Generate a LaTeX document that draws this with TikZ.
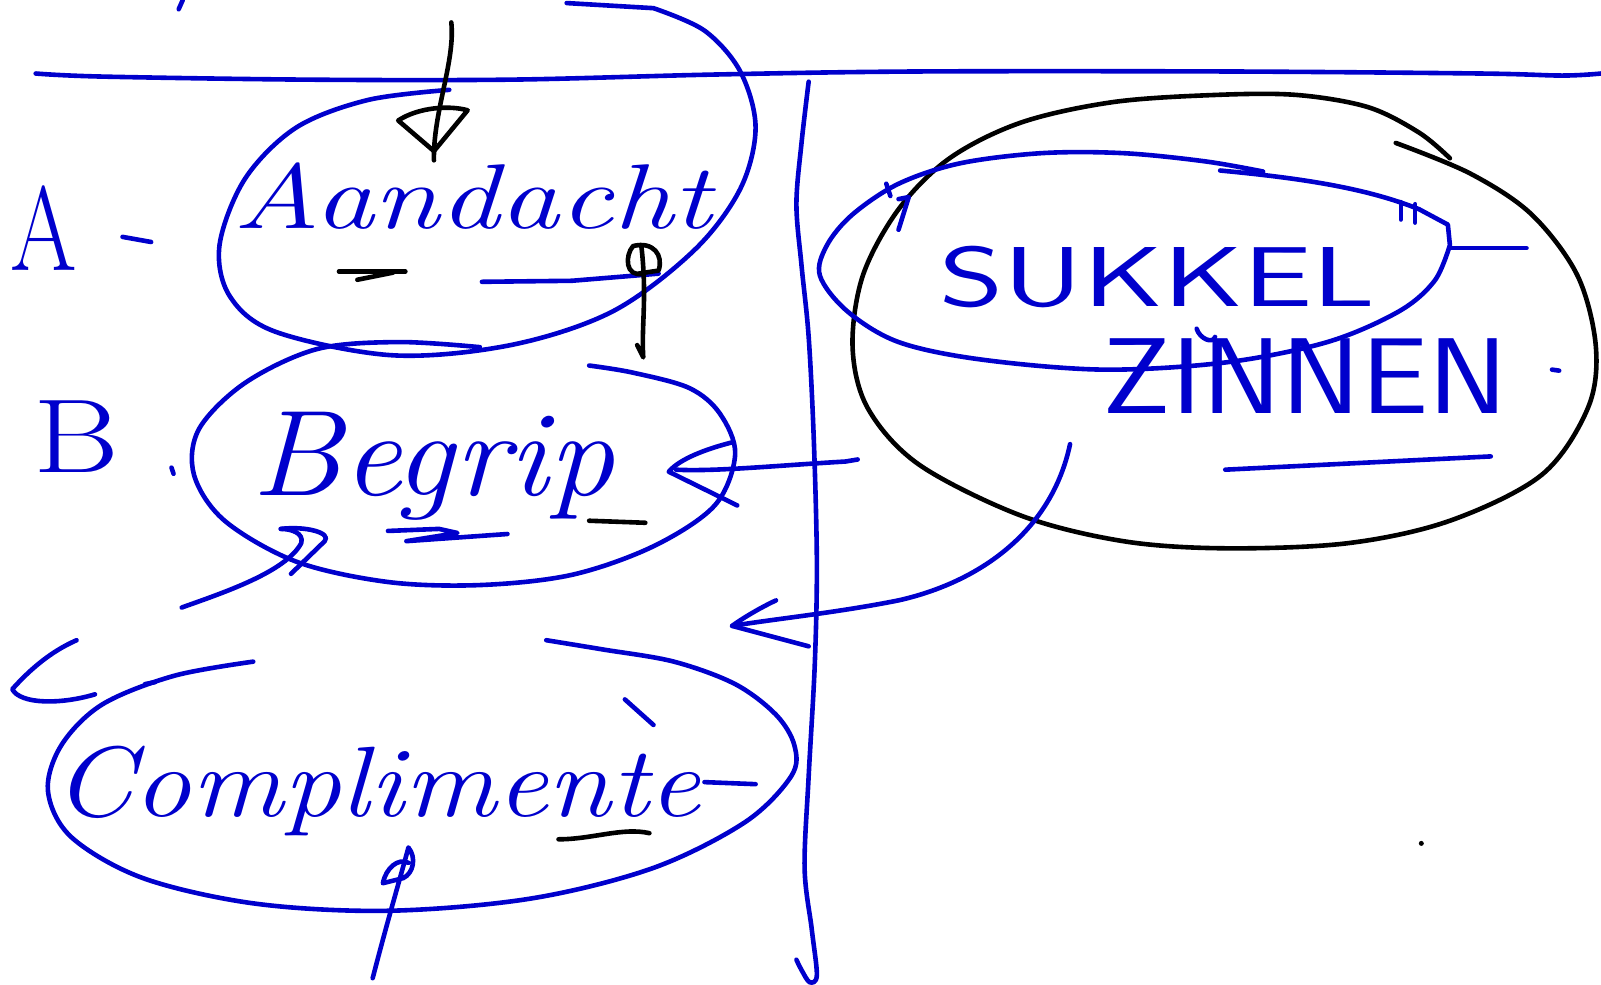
\documentclass[tikz,border=0pt]{standalone}
\usepackage{fontspec}
\definecolor{inkblue}{RGB}{0,0,204}
\begin{document}
\begin{tikzpicture}[x=1.021pt,y=-1.021pt,
  pen/.style={line width=4.6pt, line cap=round, line join=round},
  bluepen/.style={pen, draw=inkblue},
  blackpen/.style={pen, draw=black},
  hand/.style={text=inkblue, inner sep=0pt, anchor=base west},
  curve/.style={smooth, tension=0.55}]
\useasboundingbox (0,0) rectangle (1568,964);

% ---------- frame lines ----------
\draw[bluepen] plot[curve] coordinates {(35,72) (100,75) (300,78) (500,78) (700,73) (900,70) (1200,70) (1450,72) (1530,74) (1568,72)};
\draw[bluepen] plot[curve] coordinates {(792,80) (785,140) (780,200) (785,260) (792,330) (797,430) (800,550) (798,650) (792,760) (788,850) (795,910) (800,955) (793,962) (785,950) (780,940)};
\draw[bluepen] (175,9) -- (179,0);

% ---------- left labels ----------
\node[hand] (lA) at (10,265) {\scalebox{0.8}[1]{\fontsize{120}{120}\selectfont A}};
\draw[bluepen] (120,232) -- (148,237);
\node[hand] (lB) at (33,463) {\scalebox{1.25}[1]{\fontsize{105}{105}\selectfont B}};
\draw[bluepen] (168,458) -- (170,464);

% ---------- Aandacht ----------
\draw[bluepen] plot[curve] coordinates {(440,88) (360,98) (290,125) (240,175) (215,240) (225,290) (270,325) (385,348) (500,338) (600,305) (680,245) (725,185) (740,125) (725,70) (690,30) (640,8)} -- (555,3);
\node[hand] (aand) at (228,224) {\scalebox{1.3}[1]{\fontsize{92}{92}\selectfont\itshape Aandacht}};
\draw[blackpen] (332,266) -- (397,266);
\draw[blackpen] (350,274) -- (385,267);
\draw[bluepen] (472,276) -- (560,275) -- (645,268);

% black arrow into Aandacht
\coordinate (aTop) at (442,22);
\coordinate (aTip) at (425,157);
\draw[blackpen] (aTop) .. controls (446,60) and (424,110) .. (aTip);
\draw[blackpen] (425,148) -- (390,118) .. controls (410,105) and (440,103) .. (458,108) -- cycle;

% black mark between Aandacht and Begrip
\draw[blackpen] (628,240) .. controls (634,290) and (628,320) .. (630,350) -- (624,338);
\draw[blackpen] (630,268) .. controls (612,272) and (612,250) .. (620,241) .. controls (640,236) and (650,250) .. (645,265) -- (625,268);

% ---------- Begrip ----------
\draw[bluepen] plot[curve] coordinates {(470,340) (390,335) (310,342) (240,375) (195,420) (190,465) (220,510) (290,550) (380,570) (470,573) (560,563) (640,535) (700,495) (720,445) (705,405) (675,380) (620,365) (577,358)};
\node[hand] (begr) at (246,485) {\scalebox{1.08}[1]{\fontsize{122}{122}\selectfont\itshape Begrip}};
\draw[blackpen] (577,510) -- (632,512);
\draw[bluepen] (380,520) -- (430,518) -- (448,522) -- (398,530) -- (497,523);

% arrow into Begrip from the right
\coordinate (bTail) at (840,450);
\coordinate (bTip) at (662,460);
\draw[bluepen] (bTail) -- (828,452) .. controls (760,456) and (700,462) .. (bTip);
\draw[bluepen] (718,433) .. controls (690,440) and (665,450) .. (655,462) -- (722,495);

% curly stroke below Begrip
\draw[bluepen] (178,595) .. controls (220,580) and (280,560) .. (295,532) .. controls (298,522) and (285,518) .. (275,518);
\draw[bluepen] (275,518) .. controls (300,515) and (325,522) .. (318,530) -- (285,562);

% ---------- Compliment ----------
\draw[bluepen] (75,627) .. controls (50,638) and (30,655) .. (12,675) .. controls (20,690) and (60,690) .. (93,680);
\draw[bluepen] (142,670) -- (152,668);
\draw[bluepen] plot[curve] coordinates {(248,648) (170,662) (100,690) (60,730) (47,775) (70,820) (140,860) (250,885) (380,892) (520,880) (640,850) (730,805) (775,760) (778,730) (760,700) (720,670) (660,648) (590,636) (535,627)};
\node[hand] (comp) at (52,800) {\scalebox{1.15}[1]{\fontsize{100}{100}\selectfont\itshape Complimente}};
\draw[bluepen] (612,685) -- (640,710);
\draw[bluepen] (690,766) -- (740,768);
\draw[blackpen] (547,822) .. controls (580,822) and (610,810) .. (636,816);
\coordinate (cTail) at (365,958);
\draw[bluepen] (cTail) .. controls (380,900) and (392,860) .. (400,830) .. controls (408,840) and (405,855) .. (395,860) -- (375,865) .. controls (378,850) and (390,840) .. (400,845);

% ---------- SUKKEL / ZINNEN ----------
\draw[blackpen] plot[curve] coordinates {(1420,155) (1390,130) (1340,105) (1270,93) (1190,93) (1090,100) (1000,120) (930,155) (880,205) (845,270) (835,340) (850,400) (900,455) (1000,505) (1100,530) (1200,537) (1320,532) (1420,510) (1510,465) (1555,400) (1563,340) (1545,270) (1500,210) (1440,170) (1367,140)};
\draw[bluepen] plot[curve] coordinates {(1237,168) (1180,158) (1100,150) (1020,150) (940,160) (880,180) (835,210) (810,240) (803,270) (830,305) (880,335) (960,352) (1080,362) (1200,355) (1300,335) (1370,305) (1405,275) (1420,240)} -- (1418,220) -- (1390,205) .. controls (1340,185) and (1280,175) .. (1195,167);
\draw[bluepen] (1420,243) -- (1495,243);
\draw[bluepen] (868,180) -- (872,192);
\draw[bluepen] (880,195) -- (890,193) -- (880,225);
\draw[bluepen] (1372,198) -- (1372,215);
\draw[bluepen] (1386,200) -- (1386,218);
\node[hand] (sukk) at (920,300) {\scalebox{1.45}[1]{\fontsize{85}{85}\selectfont\sffamily SUKKEL}};
\node[hand] (zinn) at (1080,405) {\scalebox{1.22}[1.1]{\fontsize{98}{98}\selectfont\sffamily ZINNEN}};
\draw[bluepen] (1172,322) .. controls (1175,332) and (1188,337) .. (1190,330);
\draw[bluepen] (1520,362) -- (1527,363);
\draw[bluepen] (1200,460) -- (1300,455) -- (1460,447);

% arrow from ZINNEN to the left
\coordinate (zTail) at (1048,435);
\coordinate (zTip) at (717,613);
\draw[bluepen] (zTail) .. controls (1030,520) and (960,570) .. (880,588) .. controls (820,600) and (760,606) .. (zTip);
\draw[bluepen] (760,588) .. controls (745,595) and (728,605) .. (717,613) -- (792,633);

% stray dot
\fill (1392,826) circle (2.5pt);
\end{tikzpicture}
\end{document}
